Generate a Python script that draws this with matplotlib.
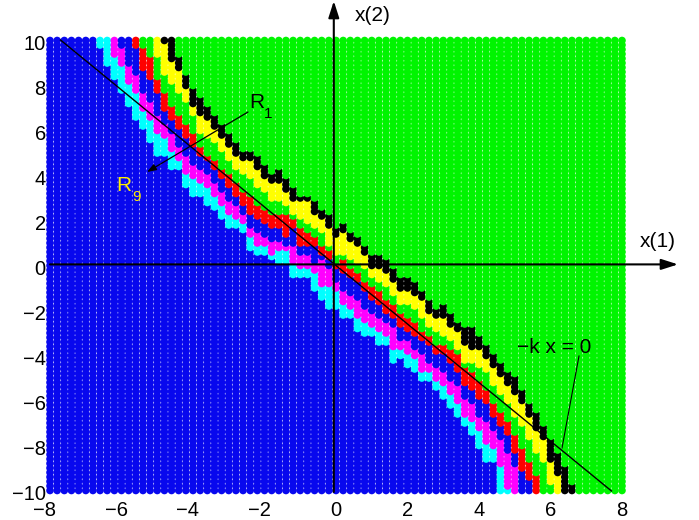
import numpy as np
import matplotlib
matplotlib.use("Agg")
import matplotlib.pyplot as plt
from matplotlib.transforms import Affine2D

plt.rcParams['font.family'] = ['Liberation Sans', 'DejaVu Sans']

# columns x = k*0.2, k from -33 to 33; each row holds the lowest x(2) of each region,
# highest region first: top green, black, yellow, green, red, blue, magenta, cyan
T = 10.2   # above the grid
L = -10.2  # below the grid
columns_k = list(range(-33, 34))
top_green = [T,T,T,T,T,T,T,T,T,T,T,9.4,8.6,8.0,7.6,7.2,6.8,6.4,6.0,5.6,5.2,5.2,5.0,4.6,4.2,4.4,4.0,3.6,3.2,3.2,3.0,2.6,2.4,1.8,
             2.0,1.6,1.4,1.0,0.6,0.6,0.4,0.0,-0.4,-0.4,-0.6,-1.0,-1.4,-1.8,-1.6,-2.0,-2.4,-2.6,-2.6,-3.0,-3.4,-3.8,-4.2,-4.6,-4.8,-5.4,-6.0,-6.4,-7.0,-7.6,-8.2,-8.8,-9.6]
black = [T,T,T,T,T,T,T,T,T,10.0,9.2,8.8,8.0,7.2,6.8,6.6,6.2,5.8,5.4,5.0,4.8,4.8,4.4,4.0,3.8,3.8,3.4,3.0,3.0,3.0,2.4,2.2,1.8,1.4,
         1.6,1.2,1.0,0.6,0.0,0.0,-0.2,-0.6,-1.0,-1.0,-1.2,-1.4,-2.0,-2.2,-2.2,-2.6,-2.8,-3.4,-3.6,-3.6,-4.0,-4.4,-4.8,-5.2,-5.6,-6.0,-6.6,-7.2,-7.6,-8.6,-9.2,L,L]
yellow = [T,T,T,T,T,T,T,T,9.4,8.6,8.2,7.8,7.4,6.8,6.0,5.8,5.6,5.2,4.8,4.4,4.2,4.0,3.6,3.4,3.0,3.0,2.8,2.4,2.2,2.0,1.8,1.6,1.0,0.6,
          0.6,0.4,0.2,0.0,-0.4,-0.6,-0.8,-1.2,-1.6,-1.6,-1.8,-2.2,-2.6,-2.8,-3.0,-3.2,-3.6,-4.2,-4.2,-4.4,-4.6,-5.2,-5.6,-6.0,-6.6,-7.0,-7.6,-8.2,-8.6,-9.6,L,L,L]
green = [T,T,T,T,T,T,9.8,9.4,8.4,7.8,7.2,6.8,6.4,6.0,5.4,5.0,4.8,4.4,4.2,3.8,3.4,3.2,2.8,2.6,2.4,2.4,2.4,2.2,1.8,1.6,1.4,1.0,0.8,0.2,
         0.4,0.0,-0.2,-0.6,-0.8,-1.0,-1.4,-1.6,-2.0,-2.2,-2.4,-2.8,-3.0,-3.4,-3.4,-3.6,-3.8,-4.4,-4.6,-5.0,-5.4,-6.0,-6.4,-6.8,-7.4,-8.0,-8.6,-9.2,L,L,L,L,L]
red = [T,T,T,T,T,9.8,8.8,8.4,7.8,7.0,6.6,6.2,5.8,5.4,5.0,4.8,4.4,4.0,3.6,3.2,2.8,2.4,2.2,2.0,1.8,1.8,1.4,1.8,1.0,1.0,1.0,0.6,0.4,0.0,
       -0.2,-0.4,-0.6,-1.0,-1.4,-1.6,-2.0,-2.2,-2.6,-2.8,-3.0,-3.2,-3.4,-3.8,-3.8,-4.2,-4.6,-5.2,-5.4,-5.8,-6.0,-6.6,-7.0,-7.4,-8.2,-9.0,-9.4,L,L,L,L,L,L]
blue2 = [T,T,T,9.8,9.0,8.6,7.8,7.4,6.8,6.4,6.0,5.4,5.0,4.6,4.4,4.2,3.8,3.4,3.0,2.8,2.4,1.8,1.6,1.4,1.2,1.2,1.0,1.0,0.6,0.6,0.2,0.4,0.0,-0.6,
         -1.0,-1.2,-1.4,-1.8,-2.0,-2.2,-2.4,-2.6,-3.2,-3.2,-3.6,-3.8,-4.2,-4.4,-4.6,-5.0,-5.2,-5.8,-6.0,-6.6,-6.8,-7.2,-7.6,-8.2,-8.8,L,L,L,L,L,L,L,L]
magenta = [T,T,9.4,9.0,8.2,7.8,7.0,6.6,6.0,5.8,5.2,4.8,4.2,4.0,3.8,3.6,3.2,2.8,2.4,2.2,2.0,1.4,1.0,1.0,0.6,0.8,0.7,0.2,0.0,0.0,-0.2,-0.8,-0.8,-1.0,
           -1.6,-1.8,-2.2,-2.4,-2.6,-2.8,-3.0,-3.6,-3.6,-3.8,-4.0,-4.6,-4.6,-5.0,-5.2,-5.6,-6.0,-6.6,-6.8,-7.2,-7.8,-8.0,-8.8,-9.8,L,L,L,L,L,L,L,L,L]
cyan = [9.8,9.0,8.4,7.8,7.2,6.6,6.2,5.6,5.0,5.0,4.4,4.4,3.6,3.2,3.2,2.8,2.6,2.2,1.8,1.8,1.6,0.8,0.6,0.6,0.4,0.2,0.2,-0.4,-0.4,-0.4,-1.0,-1.4,-1.8,-1.8,
        -2.2,-2.2,-2.8,-3.0,-3.0,-3.4,-3.4,-4.2,-4.0,-4.4,-4.6,-5.0,-5.0,-5.4,-5.8,-6.2,-6.6,-7.0,-7.4,-8.0,-8.6,-8.6,-10.0,-10.0,L,L,L,L,L,L,L,L,L]
band_names = ['blue', 'cyan', 'magenta', 'blue', 'red', 'green', 'yellow', 'black', 'green']
band_colors = {'blue': '#0808ee', 'cyan': '#00ffff', 'magenta': '#ff00ff', 'red': '#ff0000',
               'green': '#00f500', 'yellow': '#ffff00', 'black': '#000000'}
x_ticks = [-8, -6, -4, -2, 0, 2, 4, 6, 8]
y_ticks = [-10, -8, -6, -4, -2, 0, 2, 4, 6, 8, 10]

W, H = 699, 520
fig = plt.figure(figsize=(W / 100, H / 100), dpi=100, facecolor='white')
ax = fig.add_axes([50 / W, 1 - 490.5 / H, 572 / W, 450 / H])
ax.set_xlim(-8, 8)
ax.set_ylim(-10, 10)

limits = {k: [cyan[i], magenta[i], blue2[i], red[i], green[i], yellow[i], black[i], top_green[i]]
          for i, k in enumerate(columns_k)}
xs, ys, cs = [], [], []
for r in range(-50, 51):          # rows, lower ones first
    y = r * 0.2
    for k in range(-40, 41):
        if k < columns_k[0]:
            idx = 0
        elif k > columns_k[-1]:
            idx = 8
        else:
            idx = sum(1 for b in limits[k] if b <= y + 1e-6)
        xs.append(k * 0.2)
        ys.append(y)
        cs.append(band_colors[band_names[idx]])
ax.scatter(xs, ys, s=30, c=cs, linewidths=0, clip_on=False, zorder=2)

for s in ax.spines.values():
    s.set_visible(False)
ax.set_xticks(x_ticks)
ax.set_yticks(y_ticks)
ax.set_xticklabels([str(v).replace('-', '\u2212') for v in x_ticks])
ax.set_yticklabels([str(v).replace('-', '\u2212') for v in y_ticks])
ax.tick_params(length=0, labelsize=14.5, colors='black')
ax.tick_params(axis='x', pad=7.5)
ax.tick_params(axis='y', pad=3)
for v, t in zip(x_ticks, ax.get_xticklabels()):
    if v < 0:
        t.set_transform(t.get_transform() + Affine2D().translate(-5.5, 0))
for t in ax.get_yticklabels():
    t.set_transform(t.get_transform() + Affine2D().translate(0, -2))

# overlay in pixel coordinates
ov = fig.add_axes([0, 0, 1, 1], facecolor='none')
ov.set_xlim(0, W)
ov.set_ylim(H, 0)
ov.axis('off')
ov.plot([60.5, 611.5], [40, 491], color='black', lw=1.0, zorder=5)
ov.plot([579, 562], [356, 448], color='black', lw=0.8, zorder=5)
arrow = dict(arrowstyle='-|>,head_length=1.0,head_width=0.32', color='black', lw=1.5, shrinkA=0, shrinkB=0, mutation_scale=10)
ov.annotate('', xy=(678, 264.4), xytext=(50, 264.4), arrowprops=arrow, zorder=6)
ov.annotate('', xy=(333.8, 1), xytext=(333.8, 492), arrowprops=arrow, zorder=6)
thin = dict(arrowstyle='-|>,head_length=0.55,head_width=0.2', color='black', lw=0.9, shrinkA=0, shrinkB=0, mutation_scale=10)
ov.annotate('', xy=(147, 172), xytext=(248, 112), arrowprops=thin, zorder=6)

def label(x, y, s, color='black', size=15):
    ov.text(x, y, s, color=color, fontsize=size, ha='left', va='baseline', zorder=7)

label(355, 21, 'x(2)')
label(640, 247, 'x(1)')
label(517, 353, '\u2212k x = 0')
label(249, 108, 'R')
label(264, 118, '1', size=11)
label(116, 191, 'R', color='#ffee00')
label(132, 201, '9', color='#ffee00', size=11)

fig.savefig('out.png', dpi=100, facecolor='white')
